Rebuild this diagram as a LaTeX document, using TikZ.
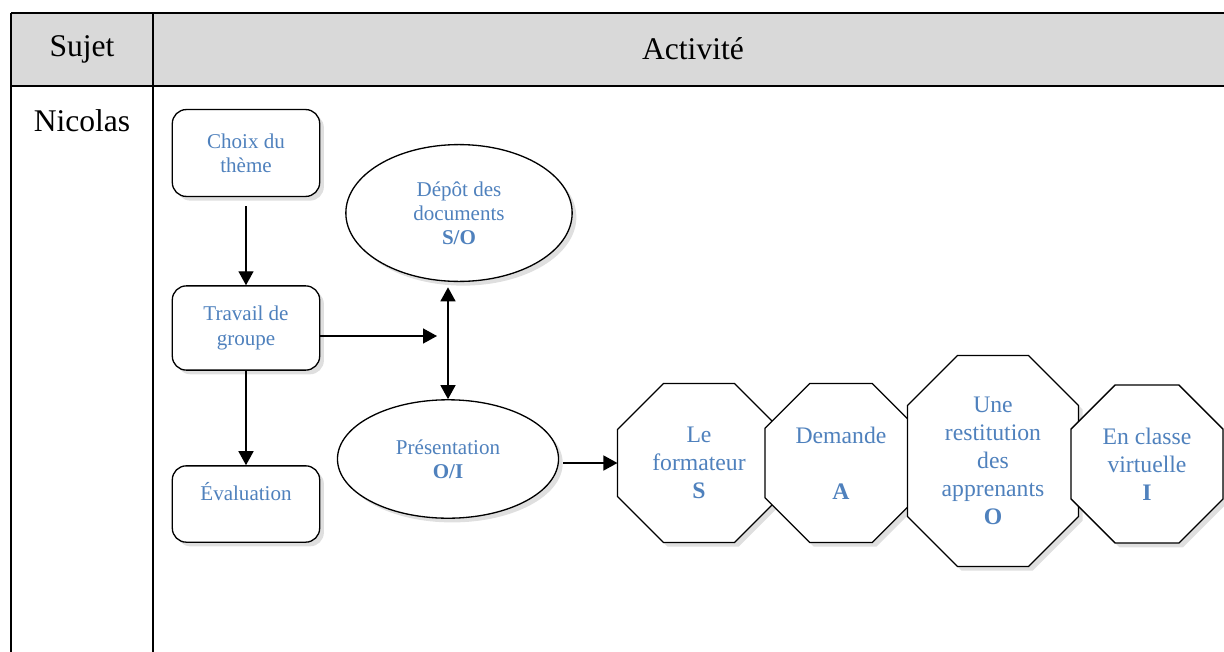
\documentclass[tikz,border=0pt]{standalone}
\usepackage{fontspec}
\setmainfont{Liberation Serif}
\usetikzlibrary{positioning, arrows.meta, shapes.geometric, shadows, backgrounds}
\definecolor{textblue}{HTML}{4F81BD}
\definecolor{headgray}{HTML}{D9D9D9}
\tikzset{
	x=0.38pt, y=-0.38pt, % one unit is one pixel of the page, y goes down
	>={Triangle[length=5.3pt,width=5.7pt]}, % big filled arrow heads
	cell/.style={font=\fontsize{12}{14}\selectfont}, % text of the table
	softshadow/.style={drop shadow={opacity=0.25, shadow xshift=1.6pt, shadow yshift=-1.6pt}},
	taskbox/.style={draw, line width=0.5pt, rounded corners=5.3pt, fill=white, softshadow, minimum width=56pt, inner sep=0pt, text=textblue, align=center, font=\fontsize{8}{9.2}\selectfont},
	modeoval/.style={ellipse, draw, line width=0.5pt, fill=white, softshadow, inner sep=0pt, text=textblue, align=center, font=\fontsize{8}{9.2}\selectfont},
	modeoct/.style={inner sep=0pt, text=textblue, align=center, font=\fontsize{9}{10.6}\selectfont}, % the text, the octagon comes later
	octline/.style={draw, line width=0.5pt, fill=white, softshadow},
	link/.style={line width=0.5pt}, % the connectors
}
% octagon round node #1, corners cut by #2
\newcommand{\octaround}[2]{%
	\path[octline] ([yshift=-#2]#1.north west) -- ([xshift=#2]#1.north west) -- ([xshift=-#2]#1.north east) -- ([yshift=-#2]#1.north east)
		-- ([yshift=#2]#1.south east) -- ([xshift=-#2]#1.south east) -- ([xshift=#2]#1.south west) -- ([yshift=#2]#1.south west) -- cycle;}

\begin{document}
\begin{tikzpicture}
	\useasboundingbox (0,0) rectangle (1224,651);
	% the table
	\fill[headgray] (11,13) rectangle (1240,86);
	\draw[line width=0.8pt] (11,13) -- (1240,13) (11,86) -- (1240,86)
		(11,13) -- (11,660) (153,13) -- (153,660);
	\node[cell] (sujet) at (82,49) {Sujet};
	\node[cell] (activite) at (693,49) {Activité};
	\node[cell] (nicolas) at (82,121) {Nicolas};

			\node[taskbox, minimum height=33pt] (choix) at (246,153) {Choix du\\thème};
			\node[taskbox, minimum height=32pt] (travail) at (246,328) {Travail de\\groupe};
			\node[taskbox, minimum height=29pt] (evaluation) at (246,504) {Évaluation\\\mbox{}};
			\node[modeoval, minimum width=86pt, minimum height=52pt] (depot) at (459,213) {Dépôt des\\documents\\\textbf{S/O}};
			\node[modeoval, minimum width=84pt, minimum height=45pt] (presentation) at (448,459) {Présentation\\\textbf{O/I}};
			\node[modeoct, minimum width=61.6pt, minimum height=60pt] (formateur) at (699,463) {Le\\formateur\\\textbf{S}};
			\node[modeoct, minimum width=57.4pt, minimum height=60pt] (demande) at (841,463) {Demande\\\mbox{}\\\textbf{A}};
			\node[modeoct, minimum width=64.6pt, minimum height=79.8pt] (restitution) at (993,461) {Une\\restitution\\des\\apprenants\\\textbf{O}};
			\node[modeoct, minimum width=57.4pt, minimum height=59.7pt] (classe) at (1147,464) {En classe\\virtuelle\\\textbf{I}};
			\coordinate (join) at (437,336);
	\begin{pgfonlayer}{background}
		\octaround{formateur}{17.5pt}
		\octaround{demande}{17pt}
		\octaround{restitution}{19pt}
		\octaround{classe}{16.8pt}
	\end{pgfonlayer}
	\draw[link, ->, shorten <=3.4pt] (choix) -- (travail);
	\draw[link, ->] (travail) -- (evaluation);
	\draw[link, ->] (travail.east |- join) -- (join);
	\draw[link, <->, shorten >=2pt] (presentation.north) -- (presentation.north |- depot.south);
	\draw[link, ->, shorten <=1.5pt] (presentation.east |- formateur.west) -- (formateur.west);
\end{tikzpicture}
\end{document}
